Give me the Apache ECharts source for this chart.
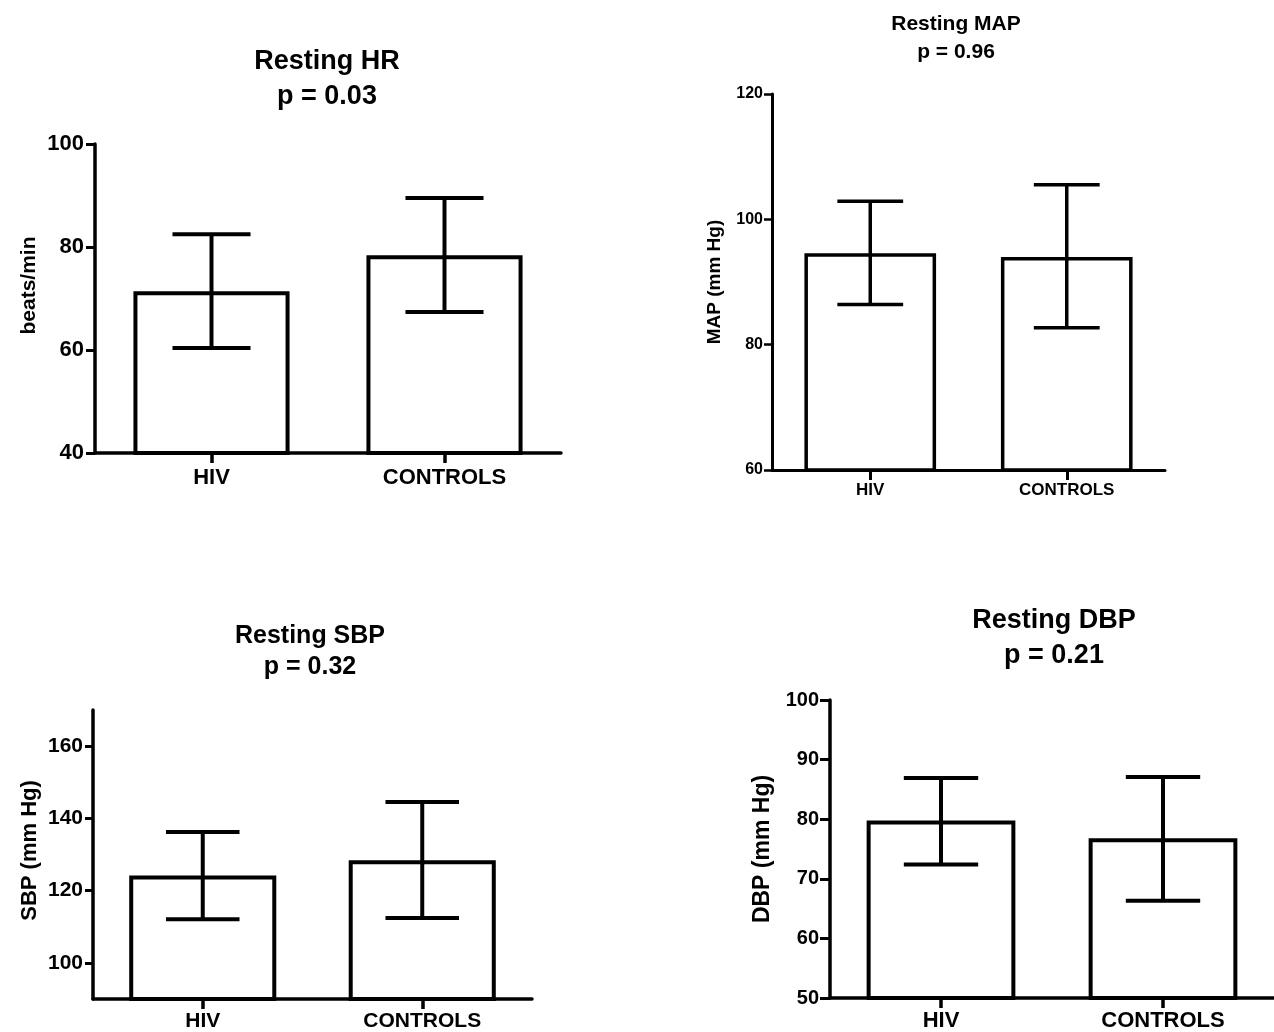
<!DOCTYPE html>
<html>
<head>
<meta charset="utf-8">
<script src="https://cdn.jsdelivr.net/npm/echarts@6/dist/echarts.min.js"></script>
<style>
html,body{margin:0;padding:0;background:#fff;}
#chart{width:1274px;height:1032px;}
</style>
</head>
<body>
<div id="chart"></div>
<script>
// ---- data ----
var groups = ['HIV', 'CONTROLS'];

var hrMean = [71.4, 78.4];
var hrHigh = [82.5, 89.5];
var hrLow  = [60.4, 67.4];
var hrTicks = [40, 60, 80, 100];

var mapMean = [94.6, 94.0];
var mapHigh = [102.9, 105.5];
var mapLow  = [86.4, 82.7];
var mapTicks = [60, 80, 100, 120];

var sbpMean = [124.2, 128.4];
var sbpHigh = [136.2, 144.5];
var sbpLow  = [112.1, 112.4];
var sbpTicks = [100, 120, 140, 160];

var dbpMean = [79.8, 76.8];
var dbpHigh = [86.9, 87.1];
var dbpLow  = [72.4, 66.3];
var dbpTicks = [50, 60, 70, 80, 90, 100];

var titles = [
  ['Resting HR', 'p = 0.03'],
  ['Resting MAP', 'p = 0.96'],
  ['Resting SBP', 'p = 0.32'],
  ['Resting DBP', 'p = 0.21']
];
var yNames = ['beats/min', 'MAP (mm Hg)', 'SBP (mm Hg)', 'DBP (mm Hg)'];

// ---- layout / style ----
var FONT = "'Liberation Sans', Arial, Helvetica, sans-serif";
var panels = [
  {grid:{left:95, right:713, top:144, bottom:579}, min:40, max:100, interval:20, ticks:hrTicks,
   mean:hrMean, hi:hrHigh, lo:hrLow, tickFont:22, xFont:22, nameFont:21, nameGap:55, namePad:[0,0,0,26], lw:3.5,
   tickLen:9, labMargin:11, xMargin:14,
   title:{x:327, y1:62, y2:97, size:27}},
  {grid:{left:772, right:109, top:94, bottom:562}, min:60, max:120, interval:20, ticks:mapTicks,
   mean:mapMean, hi:mapHigh, lo:mapLow, tickFont:16, xFont:17, nameFont:19, nameGap:48, namePad:0, lw:3,
   tickLen:8, labMargin:9, xMargin:12,
   title:{x:956, y1:24, y2:52, size:21}},
  {grid:{left:93, right:742, top:710, bottom:30}, min:90, max:170, interval:10, ticks:sbpTicks,
   mean:sbpMean, hi:sbpHigh, lo:sbpLow, tickFont:21, xFont:21, nameFont:22, nameGap:52, namePad:[0,0,0,8], lw:3.5,
   tickLen:8, labMargin:10, xMargin:12,
   title:{x:310, y1:636, y2:667, size:25}},
  {grid:{left:830, right:-3, top:700, bottom:31}, min:50, max:100, interval:10, ticks:dbpTicks,
   mean:dbpMean, hi:dbpHigh, lo:dbpLow, tickFont:20, xFont:22, nameFont:23, nameGap:56, namePad:0, lw:3.5,
   tickLen:10, labMargin:11, xMargin:12,
   title:{x:1054, y1:621, y2:656, size:27}}
];

var option = {
  backgroundColor: '#ffffff',
  animation: false,
  grid: [], xAxis: [], yAxis: [], series: [], graphic: []
};

panels.forEach(function (p, i) {
  option.grid.push(Object.assign({containLabel:false}, p.grid));
  option.xAxis.push({
    type: 'category', gridIndex: i, data: groups,
    boundaryGap: true,
    axisLine: {show:true, lineStyle:{color:'#000', width:p.lw}},
    axisTick: {show:true, alignWithLabel:true, length:10, lineStyle:{color:'#000', width:p.lw}},
    axisLabel: {color:'#000', fontFamily:FONT, fontWeight:'bold', fontSize:p.xFont, margin:p.xMargin},
    splitLine: {show:false}
  });
  option.yAxis.push({
    type: 'value', gridIndex: i, min: p.min, max: p.max, interval: p.interval,
    name: yNames[i], nameLocation: 'middle', nameGap: p.nameGap, nameRotate: 90,
    nameTextStyle: {color:'#000', fontFamily:FONT, fontWeight:'bold', fontSize:p.nameFont, padding:p.namePad},
    axisLine: {show:true, onZero:false, lineStyle:{color:'#000', width:p.lw}},
    axisTick: {show:true, length:p.tickLen, customValues:p.ticks, lineStyle:{color:'#000', width:p.lw-0.5}},
    axisLabel: {color:'#000', fontFamily:FONT, fontWeight:'bold', fontSize:p.tickFont, margin:p.labMargin, customValues:p.ticks},
    splitLine: {show:false}
  });
  option.series.push({
    type: 'bar', xAxisIndex: i, yAxisIndex: i,
    data: p.mean, barWidth: '67%',
    itemStyle: {color:'#fff', borderColor:'#000', borderWidth:p.lw + 0.5},
    emphasis: {disabled:true},
    z: 2
  });
  var errData = p.mean.map(function (m, k) { return [k, p.lo[k], p.hi[k]]; });
  option.series.push({
    type: 'custom', xAxisIndex: i, yAxisIndex: i,
    data: errData, z: 5,
    renderItem: function (params, api) {
      var x = api.value(0);
      var lo = api.coord([x, api.value(1)]);
      var hi = api.coord([x, api.value(2)]);
      var half = api.size([1, 0])[0] * 0.67 / 4;
      var st = {stroke:'#000', lineWidth:p.lw + 0.5, lineCap:'butt'};
      return {type:'group', children:[
        {type:'line', shape:{x1:lo[0], y1:lo[1], x2:hi[0], y2:hi[1]}, style:st},
        {type:'line', shape:{x1:hi[0]-half, y1:hi[1], x2:hi[0]+half, y2:hi[1]}, style:st},
        {type:'line', shape:{x1:lo[0]-half, y1:lo[1], x2:lo[0]+half, y2:lo[1]}, style:st}
      ]};
    }
  });
  var t = p.title;
  [[titles[i][0], t.y1], [titles[i][1], t.y2]].forEach(function (ln) {
    option.graphic.push({
      type: 'text', x: t.x, y: ln[1], z: 10,
      style: {text: ln[0], fill:'#000', font: 'bold ' + t.size + 'px ' + FONT,
              textAlign:'center', textVerticalAlign:'middle'}
    });
  });
});

var chart = echarts.init(document.getElementById('chart'), null, {renderer:'canvas'});
chart.setOption(option);
</script>
</body>
</html>
